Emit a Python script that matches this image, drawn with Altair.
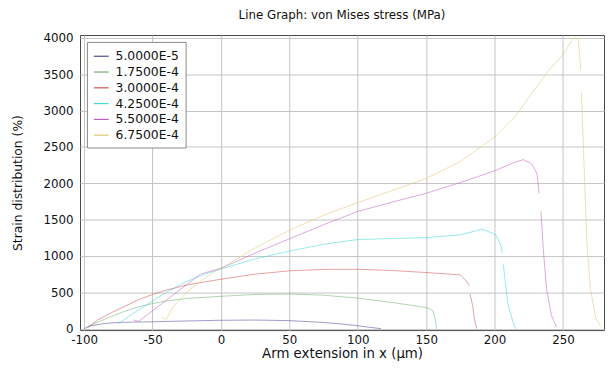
import altair as alt
import pandas as pd

labels = ["5.0000E-5", "1.7500E-4", "3.0000E-4", "4.2500E-4", "5.5000E-4", "6.7500E-4"]
colors = ["#4a4aa0", "#70b070", "#d05050", "#40d8d8", "#c060c0", "#e0c870"]

# series 1: 5.0000E-5
s1_x = [-100, -95, -85, -75, -50, -25, 0, 25, 50, 75, 90, 100, 110, 117]
s1_y = [0, 40, 70, 85, 95, 105, 115, 118, 110, 85, 60, 40, 15, 0]
s1_gap = 99
# series 2: 1.7500E-4
s2_x = [-98, -90, -80, -70, -60, -50, -40, -25, 0, 25, 50, 75, 100, 125, 145, 152, 154.8, 156.5, 157.6]
s2_y = [20, 90, 170, 240, 300, 345, 380, 415, 445, 470, 477, 460, 420, 360, 305, 280, 250, 136, 0]
s2_gap = 99
# series 3: 3.0000E-4
s3_x = [-97, -90, -80, -70, -60, -50, -40, -25, 0, 25, 50, 75, 100, 125, 150, 175, 179.2, 181.7, 182, 184, 185.2, 187]
s3_y = [20, 120, 220, 310, 400, 470, 530, 600, 680, 750, 795, 815, 817, 800, 772, 740, 658, 590, 477, 318, 136, 0]
s3_gap = 18
# series 4: 4.2500E-4
s4_x = [-75, -65, -50, -40, -25, -10, 0, 25, 50, 75, 100, 125, 150, 175, 191, 200.8, 204.4, 205.6, 206.3, 208.5, 210, 212.8, 215.2]
s4_y = [68, 200, 380, 500, 650, 760, 820, 960, 1067, 1160, 1226, 1240, 1252, 1290, 1368, 1294, 1158, 1045, 886, 545, 318, 136, 0]
s4_gap = 18
# series 5: 5.5000E-4
s5_x = [-64, -60, -50, -40, -30, -15, 0, 25, 50, 75, 100, 125, 150, 175, 200, 215, 221, 227, 231, 232.5, 233.9, 235.6, 238, 241.6, 245.2]
s5_y = [120, 100, 245, 390, 535, 750, 830, 1040, 1236, 1430, 1612, 1740, 1862, 2010, 2171, 2290, 2325, 2271, 2135, 1862, 1612, 1090, 545, 181, 23]
s5_gap = 20
# series 6: 6.7500E-4
s6_x = [-43, -40, -35, -25, -15, -5, 0, 25, 50, 75, 100, 125, 150, 175, 200, 215, 225, 240, 250, 256, 258, 261, 262, 263, 263.5, 265, 267.5, 270, 274, 277.5]
s6_y = [146, 130, 300, 500, 650, 780, 830, 1110, 1353, 1560, 1734, 1900, 2067, 2300, 2636, 2920, 3180, 3565, 3770, 3950, 4000, 3990, 3800, 3565, 3250, 2452, 1181, 545, 136, 23]
s6_gap = 24

series = [
    (s1_x, s1_y, s1_gap), (s2_x, s2_y, s2_gap), (s3_x, s3_y, s3_gap),
    (s4_x, s4_y, s4_gap), (s5_x, s5_y, s5_gap), (s6_x, s6_y, s6_gap),
]

rows = []
for lab, (xs, ys, gap) in zip(labels, series):
    for i, (xv, yv) in enumerate(zip(xs, ys)):
        rows.append({"series": lab, "seg": f"{lab}-{0 if i < gap else 1}",
                     "idx": i, "x": xv, "y": yv})
df = pd.DataFrame(rows)

font = "DejaVu Sans"
minus_fix = "replace(datum.label, '\u2212', '-')"

chart = alt.Chart(df).mark_line(strokeWidth=1, opacity=0.55, clip=True).encode(
    x=alt.X("x:Q", scale=alt.Scale(domain=[-103, 280], nice=False, zero=False),
            axis=alt.Axis(title="Arm extension in x (µm)", values=list(range(-100, 251, 50)),
                          format="d", labelExpr=minus_fix, grid=True,
                          titleFontSize=13.5, labelPadding=5, titlePadding=1)),
    y=alt.Y("y:Q", scale=alt.Scale(domain=[-20, 4040], nice=False, zero=False),
            axis=alt.Axis(title="Strain distribution (%)", values=list(range(0, 4001, 500)),
                          format="d", grid=True, titleFontSize=12.5,
                          labelPadding=7, titlePadding=19)),
    color=alt.Color("series:N", sort=labels,
                    scale=alt.Scale(domain=labels, range=colors),
                    legend=alt.Legend(title=None, orient="none", legendX=7, legendY=7,
                                      symbolType="stroke", symbolSize=225,
                                      symbolStrokeWidth=1.2, symbolOpacity=1,
                                      labelFontSize=12.5, labelFont=font, labelColor="#111",
                                      rowPadding=1, padding=6, fillColor="white",
                                      strokeColor="#888888", labelOffset=6)),
    detail="seg:N",
    order=alt.Order("idx:Q"),
).properties(
    width=531, height=299,
    autosize=alt.AutoSizeParams(type="none"),
    padding={"left": 73, "top": 25, "right": 2, "bottom": 33},
    title=alt.TitleParams("Line Graph: von Mises stress (MPa)", font=font, fontSize=12,
                          fontWeight="normal", color="#111", offset=10),
).configure_view(
    stroke="#444444", strokeWidth=1
).configure_axis(
    labelFont=font, labelFontSize=12, labelColor="#111",
    titleFont=font, titleFontWeight="normal", titleColor="#111",
    gridColor="#c4c4c4", gridWidth=1, gridOpacity=1,
    domain=False, ticks=False,
)

chart.save("out.html", embed_options={"renderer": "svg", "actions": False})
